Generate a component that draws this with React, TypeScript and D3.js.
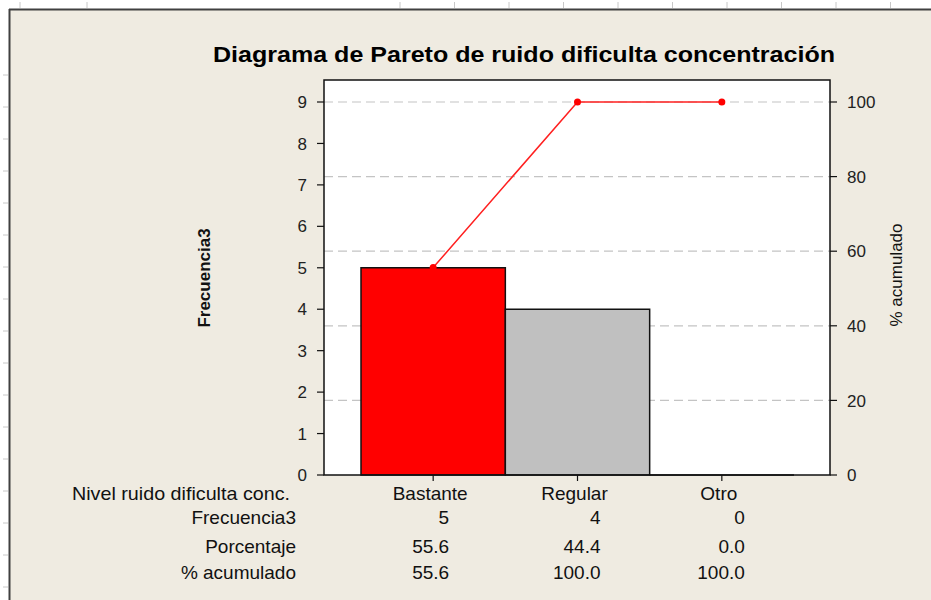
import React from "react";
import * as d3 from "d3";

const categories = ["Bastante", "Regular", "Otro"];
const counts = [5, 4, 0];
const percents = [55.6, 44.4, 0.0];
const cumPercents = [55.6, 100.0, 100.0];
const countTicks = [0, 1, 2, 3, 4, 5, 6, 7, 8, 9];
const pctTicks = [0, 20, 40, 60, 80, 100];
const barColors = ["#FF0000", "#C0C0C0", "#C0C0C0"];
const rowLabels = ["Frecuencia3", "Porcentaje", "% acumulado"];
const title = "Diagrama de Pareto de ruido dificulta concentración";
const xAxisTitle = "Nivel ruido dificulta conc.";
const topRulerTicks = [20, 87, 400, 454.5, 509, 563.5, 618, 672.5, 727, 781.5, 836, 890.5];
const leftRulerTicks = [75, 107, 139, 171, 203, 235, 267, 299, 331, 363, 395, 427, 459, 491, 523, 555, 587];

const W = 931;
const H = 600;
const plot = { left: 324, right: 830, top: 80, bottom: 475 };
const FONT = "'Liberation Sans', Arial, sans-serif";
const TABLE_FS = 19;

export default function App() {
  const x = d3.scaleBand<string>().domain(categories).range([361, 794]).padding(0);
  const yCount = d3.scaleLinear().domain([0, 9]).range([plot.bottom, 102]);
  const yPct = d3.scaleLinear().domain([0, 100]).range([plot.bottom, 102]);

  const line = d3
    .line<number>()
    .x((_, i) => (x(categories[i]) as number) + x.bandwidth() / 2)
    .y((d) => yPct(d));

  const barPath = (i: number) => {
    const p = d3.path();
    const x0 = x(categories[i]) as number;
    const y0 = yCount(counts[i]);
    p.rect(x0, y0, x.bandwidth(), plot.bottom - y0);
    return p.toString();
  };

  const cx = (c: string) => (x(c) as number) + x.bandwidth() / 2;
  const rowY = [517, 546, 572];
  const rowValues = [
    counts.map((d) => String(d)),
    percents.map((d) => d.toFixed(1)),
    cumPercents.map((d) => d.toFixed(1)),
  ];

  return (
    <svg
      width={W}
      height={H}
      style={{ position: "absolute", left: 0, top: 0, fontFamily: FONT }}
    >
      <rect x={0} y={0} width={W} height={H} fill="#FFFFFF" />
      {topRulerTicks.map((t) => (
        <line key={"tr" + t} x1={t} x2={t} y1={2} y2={8} stroke="#C8C8C8" strokeWidth={1} />
      ))}
      {leftRulerTicks.map((t) => (
        <line key={"lr" + t} x1={3} x2={8} y1={t} y2={t} stroke="#C8C8C8" strokeWidth={1} />
      ))}
      <rect x={9} y={9} width={W - 9} height={H - 9} fill="#EFEBE1" />
      <line x1={9} x2={W} y1={9.5} y2={9.5} stroke="#404040" strokeWidth={2} />
      <line x1={9.5} x2={9.5} y1={9} y2={H} stroke="#404040" strokeWidth={2} />

      <text
        x={524}
        y={62}
        textAnchor="middle"
        fontSize={22}
        fontWeight="bold"
        fill="#000"
        textLength={622}
        lengthAdjust="spacingAndGlyphs"
      >
        {title}
      </text>

      {/* plot area */}
      <rect
        x={plot.left}
        y={plot.top}
        width={plot.right - plot.left}
        height={plot.bottom - plot.top}
        fill="#FFFFFF"
      />
      {pctTicks
        .filter((t) => t > 0)
        .map((t) => (
          <line
            key={"g" + t}
            x1={plot.left}
            x2={plot.right}
            y1={yPct(t)}
            y2={yPct(t)}
            stroke="#C4C4C4"
            strokeWidth={1.2}
            strokeDasharray="9,5"
          />
        ))}

      {categories.map((c, i) => (
        <path key={c} d={barPath(i)} fill={barColors[i]} stroke="#111" strokeWidth={1.5} />
      ))}

      <path d={line(cumPercents) || ""} fill="none" stroke="#FF2020" strokeWidth={1.5} />
      {cumPercents.map((d, i) => (
        <circle key={"p" + i} cx={cx(categories[i])} cy={yPct(d)} r={3.5} fill="#FF0000" />
      ))}

      <rect
        x={plot.left}
        y={plot.top}
        width={plot.right - plot.left}
        height={plot.bottom - plot.top}
        fill="none"
        stroke="#111"
        strokeWidth={1.5}
      />

      {/* left axis */}
      {countTicks.map((t) => (
        <g key={"l" + t}>
          <line x1={plot.left - 7} x2={plot.left} y1={yCount(t)} y2={yCount(t)} stroke="#111" strokeWidth={1.2} />
          <text x={307} y={yCount(t)} dy="0.36em" textAnchor="end" fontSize={17} fill="#222">
            {t}
          </text>
        </g>
      ))}
      {/* right axis */}
      {pctTicks.map((t) => (
        <g key={"r" + t}>
          <line x1={plot.right} x2={plot.right + 7} y1={yPct(t)} y2={yPct(t)} stroke="#111" strokeWidth={1.2} />
          <text x={847} y={yPct(t)} dy="0.36em" textAnchor="start" fontSize={17} fill="#222">
            {t}
          </text>
        </g>
      ))}
      {/* x ticks */}
      {categories.map((c) => (
        <line key={"xt" + c} x1={cx(c)} x2={cx(c)} y1={plot.bottom} y2={plot.bottom + 6} stroke="#111" strokeWidth={1.2} />
      ))}

      <text
        transform={`translate(210,278) rotate(-90)`}
        textAnchor="middle"
        fontSize={17}
        fontWeight="bold"
        fill="#111"
      >
        Frecuencia3
      </text>
      <text
        transform={`translate(902,275) rotate(-90)`}
        textAnchor="middle"
        fontSize={17}
        fill="#111"
      >
        % acumulado
      </text>

      {/* table */}
      <text x={290} y={500} textAnchor="end" fontSize={TABLE_FS} fill="#111" textLength={218} lengthAdjust="spacingAndGlyphs">
        {xAxisTitle}
      </text>
      {categories.map((c) => (
        <text key={"cl" + c} x={cx(c) - 3} y={500} textAnchor="middle" fontSize={TABLE_FS} fill="#111">
          {c}
        </text>
      ))}
      {rowLabels.map((r, ri) => (
        <g key={"row" + r}>
          <text x={296} y={rowY[ri] + 7} textAnchor="end" fontSize={TABLE_FS} fill="#111">
            {r}
          </text>
          {rowValues[ri].map((v, ci) => (
            <text
              key={"v" + ci}
              x={cx(categories[ci]) + (ci === 0 ? 16 : 23)}
              y={rowY[ri] + 7}
              textAnchor="end"
              fontSize={TABLE_FS}
              fill="#111"
            >
              {v}
            </text>
          ))}
        </g>
      ))}
    </svg>
  );
}
